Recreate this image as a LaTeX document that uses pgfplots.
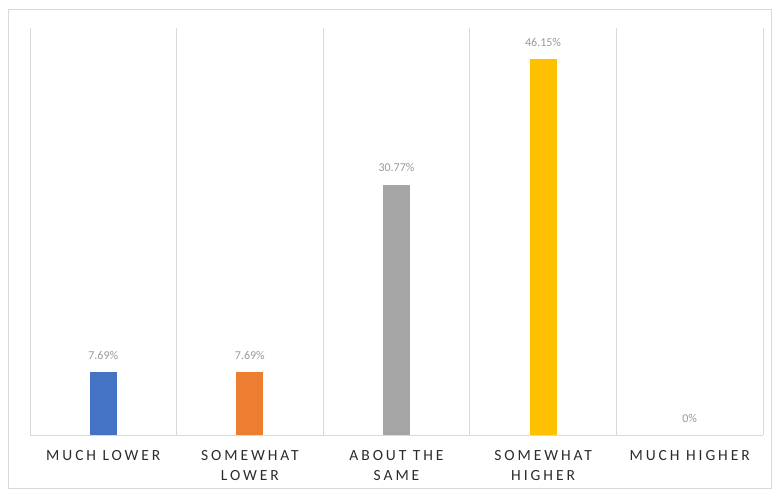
\documentclass[border=0pt]{standalone}
\usepackage{pgfplots}
\pgfplotsset{compat=1.18}
\usepackage{fontspec}
\setmainfont{Carlito}
\newfontfamily\catfont[LetterSpace=19]{Carlito}
\definecolor{cblue}{HTML}{4472C4}
\definecolor{corange}{HTML}{ED7D31}
\definecolor{cgray}{HTML}{A5A5A5}
\definecolor{cgold}{HTML}{FFC000}
\definecolor{gridc}{HTML}{D9D9D9}
\definecolor{labc}{HTML}{2B2B2B}
\definecolor{datc}{HTML}{999999}
\begin{document}
\begin{tikzpicture}
\useasboundingbox (0,0) rectangle (779pt,489pt);
\draw[gridc, line width=0.8pt] (8pt,0.5pt) rectangle (771pt,480pt);
\begin{axis}[
  at={(30pt,54pt)}, anchor=south west,
  scale only axis, width=733pt, height=407pt,
  xmin=-0.5, xmax=4.5, ymin=0, ymax=50,
  ybar, bar width=27pt, bar shift=0pt,
  axis y line=none,
  axis x line*=bottom,
  x axis line style={gridc, line width=0.8pt},
  xtick={0,1,2,3,4},
  xticklabels={MUCH LOWER, SOMEWHAT\\LOWER, ABOUT THE\\SAME, SOMEWHAT\\HIGHER, MUCH HIGHER},
  xticklabel style={font=\catfont\fontsize{15.5}{20}\selectfont, text=labc, align=center, yshift=-12pt},
  major tick length=0pt,
  minor xtick={-0.5,0.5,1.5,2.5,3.5,4.5},
  xminorgrids, minor grid style={gridc, line width=0.8pt},
  minor tick length=0pt,
  point meta=explicit symbolic,
  nodes near coords,
  every node near coord/.append style={font=\fontsize{12}{14}\selectfont, text=datc, yshift=9pt},
  clip=false,
]
\addplot[fill=cblue, draw=none] coordinates {(0,7.69) [7.69\%]};
\addplot[fill=corange, draw=none] coordinates {(1,7.69) [7.69\%]};
\addplot[fill=cgray, draw=none] coordinates {(2,30.77) [30.77\%]};
\addplot[fill=cgold, draw=none] coordinates {(3,46.15) [46.15\%]};
\addplot[fill=none, draw=none] coordinates {(4,0) [0\%]};
\end{axis}
\end{tikzpicture}
\end{document}
